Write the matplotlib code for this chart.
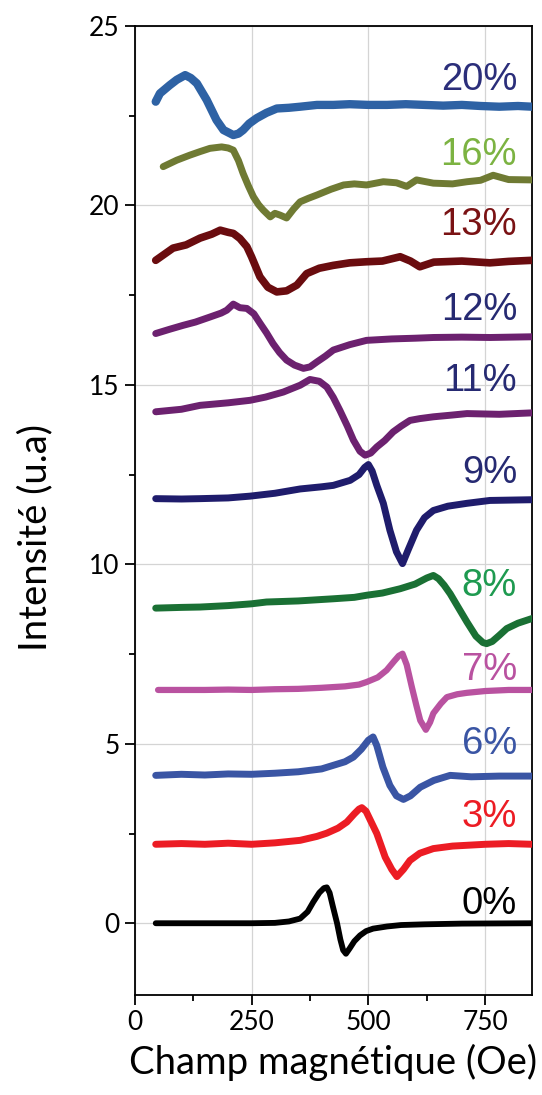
import matplotlib
matplotlib.use("Agg")
import matplotlib.pyplot as plt
from matplotlib.ticker import MultipleLocator

# ---- data ----
labels = ["0%", "3%", "6%", "7%", "8%", "9%", "11%", "12%", "13%", "16%", "20%"]

x0 = [45, 100, 150, 200, 250, 300, 330, 354, 370, 382, 395, 405, 411, 417, 424, 433, 440, 446, 452, 460, 470, 482, 495, 510, 540, 570, 620, 700, 850]
y0 = [0, 0, 0, 0, 0, 0.01, 0.05, 0.13, 0.32, 0.59, 0.85, 0.98, 1.0, 0.85, 0.47, 0.0, -0.45, -0.75, -0.85, -0.7, -0.5, -0.34, -0.22, -0.15, -0.09, -0.05, -0.03, -0.01, 0]

x3 = [45, 100, 150, 200, 250, 300, 354, 390, 411, 435, 454, 470, 480, 486, 495, 505, 518, 536, 550, 561, 575, 589, 610, 639, 680, 750, 800, 850]
y3 = [2.2, 2.22, 2.2, 2.23, 2.2, 2.24, 2.31, 2.42, 2.51, 2.65, 2.82, 3.05, 3.18, 3.22, 3.12, 2.85, 2.5, 1.84, 1.5, 1.3, 1.5, 1.75, 1.95, 2.08, 2.15, 2.2, 2.22, 2.2]

x6 = [45, 100, 150, 200, 250, 300, 350, 400, 425, 450, 468, 485, 500, 510, 518, 531, 546, 560, 575, 590, 611, 640, 675, 720, 780, 850]
y6 = [4.12, 4.15, 4.13, 4.16, 4.15, 4.18, 4.22, 4.3, 4.4, 4.5, 4.63, 4.85, 5.1, 5.19, 4.95, 4.35, 3.84, 3.55, 3.45, 3.55, 3.79, 3.98, 4.12, 4.08, 4.1, 4.1]

x7 = [50, 100, 150, 200, 250, 300, 350, 400, 450, 480, 496, 520, 539, 555, 565, 573, 582, 593, 603, 611, 623, 632, 639, 655, 668, 690, 711, 750, 800, 850]
y7 = [6.5, 6.5, 6.5, 6.51, 6.5, 6.52, 6.53, 6.56, 6.6, 6.65, 6.72, 6.85, 7.05, 7.3, 7.45, 7.51, 7.2, 6.58, 6.05, 5.65, 5.39, 5.6, 5.85, 6.12, 6.3, 6.38, 6.42, 6.47, 6.5, 6.5]

x8 = [45, 100, 140, 200, 250, 282, 350, 425, 470, 497, 530, 568, 600, 625, 639, 650, 662, 675, 690, 711, 730, 745, 753, 765, 780, 796, 820, 850]
y8 = [8.78, 8.8, 8.81, 8.85, 8.9, 8.95, 8.98, 9.04, 9.08, 9.14, 9.2, 9.32, 9.45, 9.62, 9.69, 9.6, 9.42, 9.18, 8.85, 8.39, 8.0, 7.82, 7.79, 7.85, 8.02, 8.21, 8.36, 8.49]

x9 = [45, 100, 140, 200, 247, 300, 354, 400, 425, 461, 480, 492, 500, 508, 518, 532, 546, 560, 573, 585, 603, 620, 639, 670, 711, 760, 850]
y9 = [11.83, 11.82, 11.83, 11.85, 11.9, 11.98, 12.1, 12.16, 12.2, 12.34, 12.5, 12.7, 12.78, 12.6, 12.2, 11.7, 10.95, 10.35, 10.02, 10.4, 10.95, 11.3, 11.5, 11.62, 11.7, 11.78, 11.8]

x11 = [45, 100, 140, 200, 247, 280, 318, 354, 375, 395, 411, 425, 439, 455, 468, 482, 493, 505, 518, 535, 553, 570, 589, 610, 639, 680, 711, 780, 850]
y11 = [14.25, 14.32, 14.43, 14.5, 14.57, 14.66, 14.8, 14.99, 15.15, 15.1, 14.94, 14.65, 14.29, 13.85, 13.46, 13.15, 13.04, 13.1, 13.27, 13.45, 13.69, 13.85, 14.01, 14.06, 14.11, 14.16, 14.2, 14.18, 14.22]

x12 = [45, 75, 104, 130, 161, 185, 197, 211, 225, 240, 255, 268, 282, 296, 310, 325, 342, 361, 375, 390, 408, 425, 460, 496, 550, 600, 639, 700, 760, 850]
y12 = [16.43, 16.55, 16.66, 16.75, 16.89, 17.0, 17.08, 17.25, 17.15, 17.13, 16.98, 16.72, 16.45, 16.15, 15.9, 15.69, 15.55, 15.46, 15.5, 15.64, 15.8, 15.97, 16.12, 16.24, 16.28, 16.3, 16.32, 16.33, 16.32, 16.34]

x13 = [45, 82, 110, 140, 165, 183, 200, 211, 225, 240, 250, 268, 285, 304, 325, 347, 368, 395, 425, 460, 496, 530, 568, 590, 610, 640, 700, 760, 800, 850]
y13 = [18.47, 18.81, 18.9, 19.09, 19.2, 19.31, 19.25, 19.22, 19.08, 18.85, 18.57, 18.01, 17.72, 17.59, 17.62, 17.78, 18.1, 18.25, 18.33, 18.4, 18.43, 18.45, 18.57, 18.45, 18.29, 18.42, 18.45, 18.4, 18.44, 18.47]

x16 = [61, 90, 118, 140, 161, 186, 200, 211, 222, 232, 243, 254, 265, 275, 290, 300, 311, 325, 340, 354, 372, 390, 420, 447, 470, 496, 532, 560, 582, 603, 639, 680, 711, 740, 767, 800, 850]
y16 = [21.08, 21.26, 21.4, 21.5, 21.59, 21.63, 21.6, 21.54, 21.25, 20.89, 20.55, 20.24, 20.02, 19.87, 19.68, 19.78, 19.73, 19.65, 19.9, 20.1, 20.2, 20.29, 20.45, 20.57, 20.6, 20.57, 20.66, 20.63, 20.53, 20.71, 20.62, 20.6, 20.66, 20.7, 20.84, 20.72, 20.71]

x20 = [45, 54, 75, 90, 108, 120, 133, 154, 175, 190, 211, 222, 232, 245, 261, 282, 304, 330, 354, 390, 425, 460, 500, 540, 580, 620, 660, 700, 740, 780, 820, 850]
y20 = [22.89, 23.12, 23.35, 23.5, 23.63, 23.55, 23.4, 22.94, 22.38, 22.1, 21.96, 22.0, 22.1, 22.28, 22.43, 22.58, 22.7, 22.72, 22.75, 22.8, 22.8, 22.82, 22.8, 22.8, 22.82, 22.8, 22.78, 22.8, 22.77, 22.75, 22.77, 22.75]

label_y = [0.55, 2.96, 5.0, 7.05, 9.41, 12.54, 15.1, 17.08, 19.45, 21.4, 23.5]

xs = [x0, x3, x6, x7, x8, x9, x11, x12, x13, x16, x20]
ys = [y0, y3, y6, y7, y8, y9, y11, y12, y13, y16, y20]

# ---- styles ----
line_colors = ["#000000", "#ec1c24", "#3a55a4", "#b952a0", "#1a7034", "#1f1c6c",
               "#6c216f", "#6c216f", "#6a0c0f", "#6f7a33", "#2e62a4"]
label_colors = ["#000000", "#ec1c24", "#3a55a4", "#b952a0", "#1e9a50", "#262a72",
                "#262a72", "#262a72", "#7a1214", "#7cb342", "#2b2e7a"]
widths = [4.2, 5.0, 5.0, 4.5, 5.0, 5.0, 5.0, 5.0, 5.5, 5.0, 6.0]

fig = plt.figure(figsize=(5.42, 10.95), dpi=100)
ax = fig.add_axes([0.2485, 0.0913, 0.733, 0.885])

for x, y, c, w in zip(xs, ys, line_colors, widths):
    ax.plot(x, y, color=c, lw=w, solid_capstyle="round", solid_joinstyle="round", zorder=3)

for lab, ly, c in zip(labels, label_y, label_colors):
    ax.text(818, ly, lab, color=c, ha="right", va="center",
            fontsize=27.5, family="Liberation Sans", zorder=4)

ax.set_xlim(0, 850)
ax.set_ylim(-2, 25)
ax.xaxis.set_major_locator(MultipleLocator(250))
ax.xaxis.set_minor_locator(MultipleLocator(125))
ax.yaxis.set_major_locator(MultipleLocator(5))
ax.yaxis.set_minor_locator(MultipleLocator(2.5))
ax.grid(True, which="major", color="#d4d4d4", lw=0.9, zorder=0)
ax.set_axisbelow(True)
for s in ax.spines.values():
    s.set_linewidth(1.3)
ax.tick_params(which="major", length=7, width=1.3, direction="out", labelsize=19, pad=4)
ax.tick_params(which="minor", length=4, width=1.3, direction="out")
for t in ax.get_xticklabels() + ax.get_yticklabels():
    t.set_family("Lato")

ax.set_xlabel("Champ magnétique (Oe)", fontsize=27.5, family="Lato", labelpad=6)
ax.set_ylabel("Intensité (u.a)", fontsize=27.5, family="Lato")
ax.yaxis.set_label_coords(-0.205, 0.472)

fig.savefig("out.png", dpi=100)
